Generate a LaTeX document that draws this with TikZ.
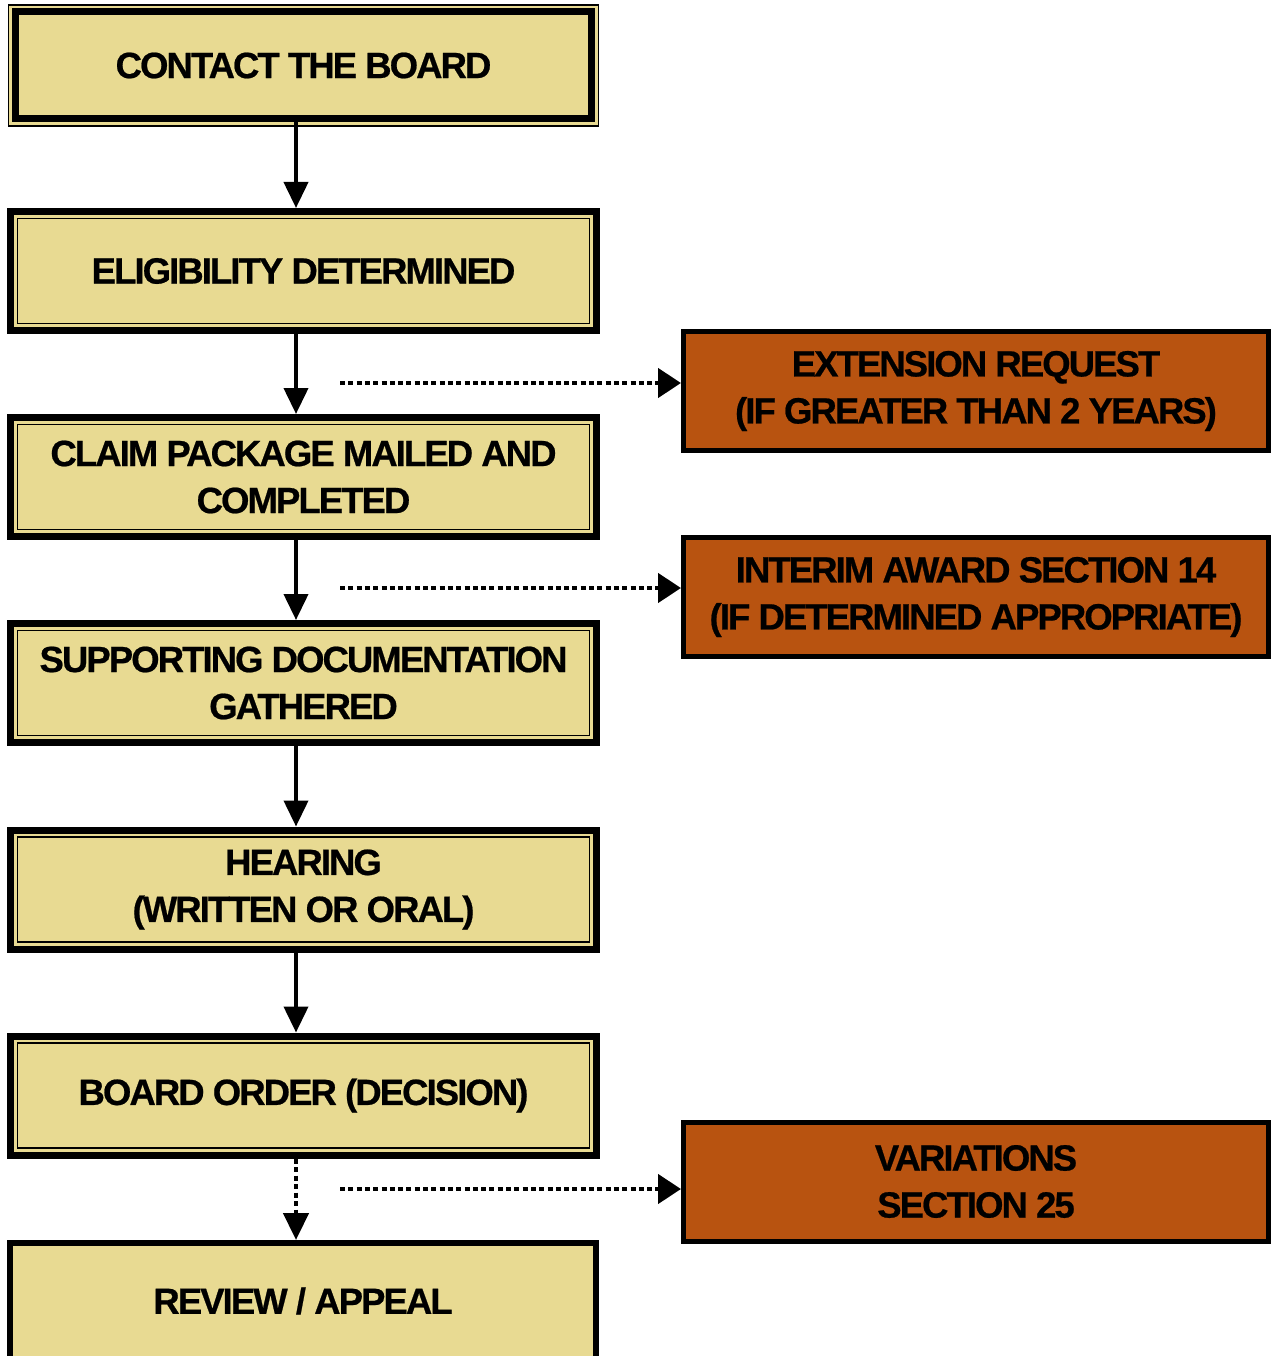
\documentclass[tikz,border=0pt]{standalone}
\usepackage{fontspec}
\setmainfont{Liberation Sans}
\newfontfamily\boxfont[LetterSpace=-5.3,BoldFeatures={FakeBold=0.6}]{Liberation Sans}
\usetikzlibrary{arrows.meta,calc,backgrounds}
\definecolor{ybg}{HTML}{E8DA92}
\definecolor{obg}{HTML}{B85310}
\tikzset{
  boxtext/.style={inner sep=0pt, align=center, font=\boxfont\bfseries\fontsize{36.5}{47}\selectfont},
  ybox/.style={boxtext, draw=black, line width=7pt, fill=ybg, minimum width=586pt, minimum height=119pt},
  firstbox/.style={boxtext, draw=black, line width=7pt, fill=ybg, minimum width=576pt, minimum height=107pt},
  lastbox/.style={boxtext, draw=black, line width=6pt, fill=ybg, minimum width=586pt, minimum height=116pt},
  obox/.style={boxtext, draw=black, line width=5pt, fill=obg, minimum width=585pt, minimum height=119pt},
  ring/.style={draw=black, line width=1.5pt},
  flow/.style={line width=4pt, -{Triangle[length=26pt,width=24pt]}},
  sideflow/.style={line width=4.5pt, dash pattern=on 5pt off 3.3pt, -{Triangle[length=23pt,width=29pt]}},
  downdots/.style={line width=4.5pt, dash pattern=on 5pt off 3.5pt, -{Triangle[length=27pt,width=25pt]}}
}
\begin{document}
\begin{tikzpicture}[x=1pt,y=-1pt]
\useasboundingbox (0,0) rectangle (1271,1356);
\clip (0,0) rectangle (1271,1356);

% main column
\node[firstbox] (b1) at (303.5,65.5) {CONTACT THE BOARD};
\begin{scope}[on background layer]
  \draw[ring, fill=ybg] ($(b1.north west)+(-3.5,-3.5)$) rectangle ($(b1.south east)+(3.5,3.5)$);
\end{scope}

\node[ybox] (b2) at (303.5,271) {ELIGIBILITY DETERMINED};
\node[ybox] (b3) at (303.5,477) {CLAIM PACKAGE MAILED AND\\COMPLETED};
\node[ybox] (b4) at (303.5,683) {SUPPORTING DOCUMENTATION\\GATHERED};
\node[ybox] (b5) at (303.5,889.5) {HEARING\\(WRITTEN OR ORAL)};
\node[ybox] (b6) at (303.5,1095.5) {BOARD ORDER (DECISION)};
\foreach \b in {b2,b3,b4,b5,b6}{
  \draw[ring] ($(\b.north west)+(10.5,10.5)$) rectangle ($(\b.south east)+(-10.5,-10.5)$);
}
\node[lastbox] (b7) at (303,1301) {REVIEW / APPEAL};

% side boxes
\node[obox] (o1) at (976,391) {EXTENSION REQUEST\\(IF GREATER THAN 2 YEARS)};
\node[obox] (o2) at (976,597) {INTERIM AWARD SECTION 14\\(IF DETERMINED APPROPRIATE)};
\node[obox] (o3) at (976,1181.5) {VARIATIONS\\SECTION 25};

% connectors
\coordinate (ax) at (296,0);
\draw[flow] (b1.south -| ax) -- (b2.north -| ax);
\draw[flow] (b2.south -| ax) -- (b3.north -| ax);
\draw[flow] (b3.south -| ax) -- (b4.north -| ax);
\draw[flow] (b4.south -| ax) -- (b5.north -| ax);
\draw[flow] (b5.south -| ax) -- (b6.north -| ax);
\draw[downdots] (b6.south -| ax) -- (b7.north -| ax);

\coordinate (d1) at (340,383);
\coordinate (d2) at (340,588);
\coordinate (d3) at (340,1189);
\draw[sideflow] (d1) -- (d1 -| o1.west);
\draw[sideflow] (d2) -- (d2 -| o2.west);
\draw[sideflow] (d3) -- (d3 -| o3.west);
\end{tikzpicture}
\end{document}
